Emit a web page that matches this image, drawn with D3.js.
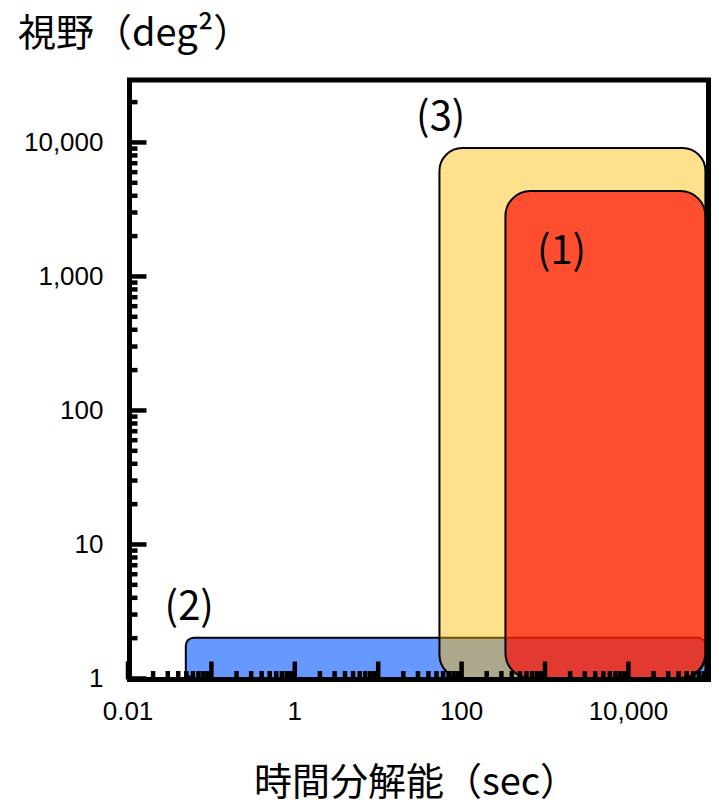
<!DOCTYPE html>
<meta charset="utf-8">
<head>
  <style>
    body {
      margin: 0;
      background: #fff;
    }
    text {
      font-family: "Noto Sans CJK JP", "Noto Sans", sans-serif;
      fill: #000;
    }
    .tick text {
      font-family: "Liberation Sans", Arial, sans-serif;
      font-size: 26px;
    }
  </style>
</head>
<body>
  <script src="https://d3js.org/d3.v7.min.js"></script>
  <script>
    // axis ranges and labelled ticks
    const xDomain = [0.01, 1e5];
    const yDomain = [1, 3e4];
    const xLabelValues = [0.01, 1, 100, 10000];
    const yLabelValues = [1, 10, 100, 1000, 10000];

    // the three bands, drawn in this order
    const bandNames = ["(2)", "(3)", "(1)"];
    const bandXStart = [0.05, 55, 340];
    const bandXEnd = [8.5e4, 8.5e4, 8.5e4];
    const bandYStart = [1, 1, 1];
    const bandYEnd = [2, 9000, 4300];
    const nameX = [0.055, 57, 1600];
    const nameY = [3.6, 16500, 1650];

    const xTitle = "時間分解能（sec）";
    const yTitle = "視野（deg²）";

    // styles
    const bandFill = ["#6699ff", "rgb(255,187,0)", "rgb(255,0,0)"];
    const bandOpacity = [1, 0.45, 0.66];
    const bandRadius = [8, 23, 25];

    const width = 719, height = 805;
    const frame = {left: 129.5, right: 708.5, top: 80, bottom: 679.5};

    const x = d3.scaleLog().domain(xDomain).range([127.5, 711.3]);
    const y = d3.scaleLog().domain(yDomain).range([678, 78]);

    const svg = d3.select("body").append("svg")
      .attr("width", width)
      .attr("height", height);

    const bands = bandNames.map((name, i) => ({
      name,
      x0: bandXStart[i], x1: bandXEnd[i],
      y0: bandYStart[i], y1: bandYEnd[i],
      fill: bandFill[i], opacity: bandOpacity[i], r: bandRadius[i]
    }));

    svg.append("g")
      .selectAll("rect")
      .data(bands)
      .join("rect")
      .attr("x", d => x(d.x0))
      .attr("y", d => y(d.y1))
      .attr("width", d => x(d.x1) - x(d.x0))
      .attr("height", d => y(d.y0) - y(d.y1))
      .attr("rx", d => d.r)
      .attr("ry", d => d.r)
      .attr("fill", d => d.fill)
      .attr("fill-opacity", d => d.opacity)
      .attr("stroke", "#000")
      .attr("stroke-width", 2);

    const isDecade = v => Math.abs(Math.log10(v) - Math.round(Math.log10(v))) < 1e-9;
    const fmt = d3.format(",");

    const xTicks = x.ticks().filter(v => x(v) < frame.right - 2);
    const yTicks = y.ticks().filter(v => y(v) > frame.top + 2);

    function styleAxis(g, w) {
      g.select(".domain").remove();
      g.selectAll(".tick line").attr("stroke", "#000").attr("stroke-width", w);
    }

    // x axis: minor then decade ticks
    svg.append("g")
      .attr("transform", `translate(0,${frame.bottom})`)
      .call(d3.axisBottom(x).tickValues(xTicks.filter(v => !isDecade(v)))
        .tickSizeInner(-8.5).tickSizeOuter(0).tickFormat(""))
      .call(g => styleAxis(g, 4.5));

    svg.append("g")
      .attr("transform", `translate(0,${frame.bottom})`)
      .call(d3.axisBottom(x).tickValues(xTicks.filter(isDecade))
        .tickSizeInner(-18).tickSizeOuter(0).tickPadding(22)
        .tickFormat(v => xLabelValues.some(l => Math.abs(l - v) < 1e-9) ? fmt(v) : ""))
      .call(g => styleAxis(g, 4.5));

    // y axis
    svg.append("g")
      .attr("transform", `translate(${frame.left},0)`)
      .call(d3.axisLeft(y).tickValues(yTicks.filter(v => !isDecade(v)))
        .tickSizeInner(-8).tickSizeOuter(0).tickFormat(""))
      .call(g => styleAxis(g, 4.5));

    svg.append("g")
      .attr("transform", `translate(${frame.left},0)`)
      .call(d3.axisLeft(y).tickValues(yTicks.filter(isDecade))
        .tickSizeInner(-17).tickSizeOuter(0).tickPadding(26)
        .tickFormat(v => yLabelValues.some(l => Math.abs(l - v) < 1e-9) ? fmt(v) : ""))
      .call(g => styleAxis(g, 4.5));

    // frame
    svg.append("rect")
      .attr("x", frame.left)
      .attr("y", frame.top)
      .attr("width", frame.right - frame.left)
      .attr("height", frame.bottom - frame.top)
      .attr("fill", "none")
      .attr("stroke", "#000")
      .attr("stroke-width", 5);

    // band names
    svg.append("g")
      .selectAll("text")
      .data(bands)
      .join("text")
      .attr("x", (d, i) => x(nameX[i]))
      .attr("y", (d, i) => y(nameY[i]))
      .attr("text-anchor", "middle")
      .attr("dominant-baseline", "central")
      .attr("font-size", 40)
      .text(d => d.name);

    // titles
    svg.append("text")
      .attr("x", 18)
      .attr("y", 46)
      .attr("font-size", 38)
      .text(yTitle);

    svg.append("text")
      .attr("x", 416)
      .attr("y", 795)
      .attr("text-anchor", "middle")
      .attr("font-size", 38)
      .text(xTitle);
  </script>
</body>
